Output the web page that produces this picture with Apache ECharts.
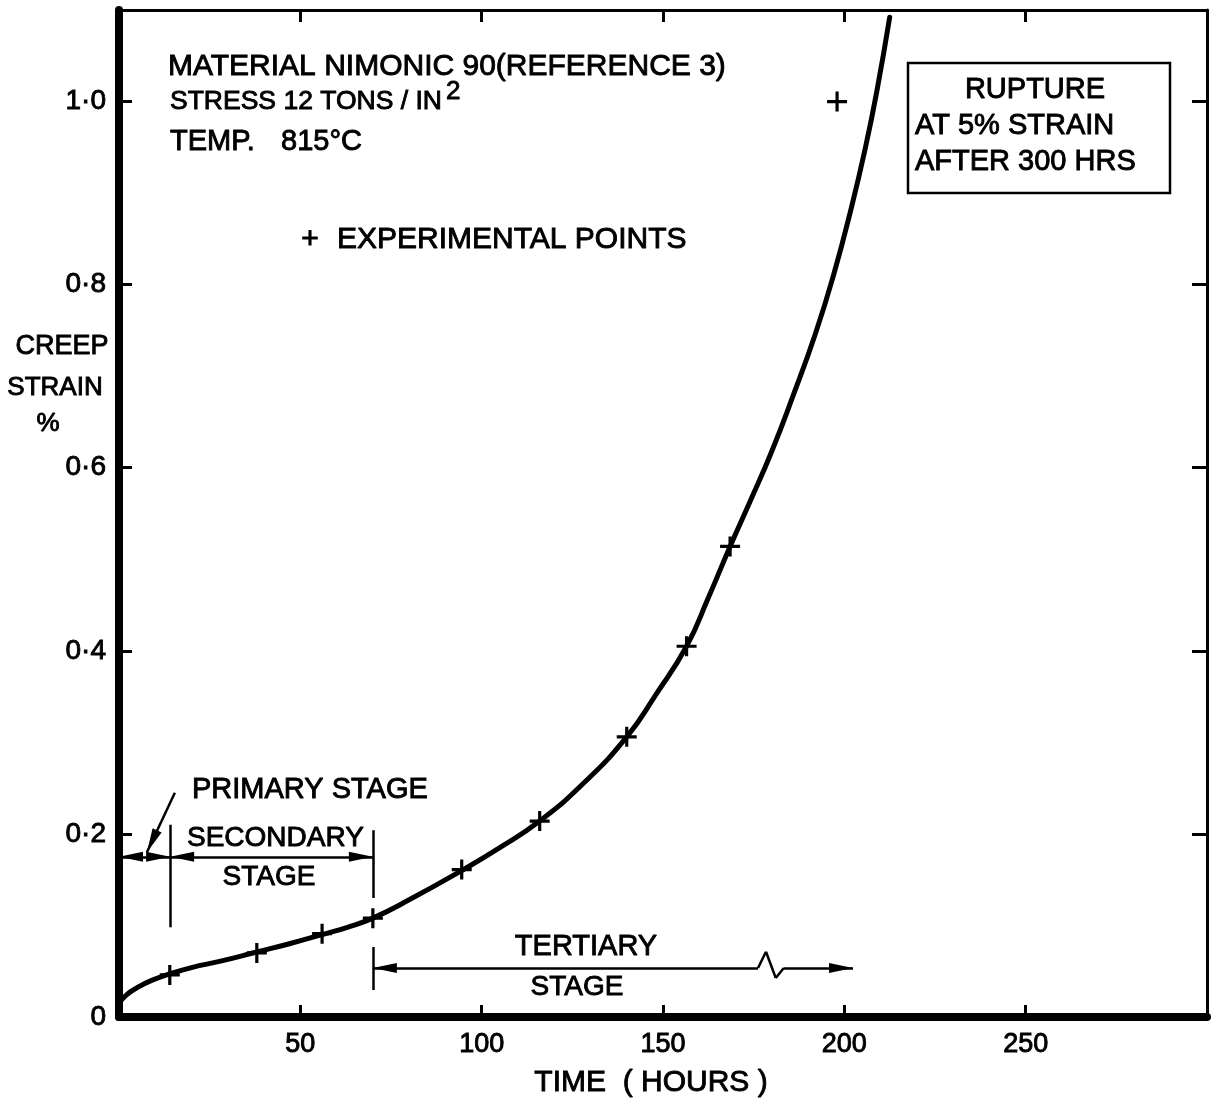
<!DOCTYPE html>
<html>
<head>
<meta charset="utf-8">
<script src="https://cdn.jsdelivr.net/npm/echarts@6/dist/echarts.min.js"></script>
<style>
  html, body { margin: 0; padding: 0; background: #fff; }
  #chart { width: 1212px; height: 1105px; }
</style>
</head>
<body>
<div id="chart"></div>
<script>
// Creep test of Nimonic 90 at 815 °C, 12 tons/in² — experimental readings
const testHours  = [14, 38, 56, 70, 94.5, 116, 140, 156.5, 168.5, 198];
const testStrain = [0.046, 0.070, 0.091, 0.108, 0.161, 0.214, 0.306, 0.405, 0.514, 1.0];

// Faired creep curve through the readings
const curveHours  = [0, 2, 5, 9, 14, 20, 28, 38, 47, 56, 63, 70, 80, 94.5, 105, 116, 128, 140, 148, 156.5,
                     162.5, 168.5, 174, 180, 186, 192, 197, 202, 206, 209, 212.5];
const curveStrain = [0.015, 0.024, 0.032, 0.040, 0.047, 0.054, 0.061, 0.071, 0.080, 0.090, 0.098, 0.108, 0.128,
                     0.160, 0.185, 0.214, 0.255, 0.306, 0.352, 0.405, 0.458, 0.514, 0.563, 0.618, 0.680, 0.746,
                     0.810, 0.885, 0.953, 1.012, 1.092];

// Axis ticks
const xTickValues = [50, 100, 150, 200, 250];
const yTickValues = [0, 0.2, 0.4, 0.6, 0.8, 1.0];
const yRightTicks = [0.2, 0.4, 0.6, 0.8, 1.0];

const FONT = '"Liberation Sans", Arial, sans-serif';
const INK = '#000';

function pairs(xs, ys) { return xs.map((x, i) => [x, ys[i]]); }

// one straight annotation stroke between two points given in axis units;
// arrow heads are pulled back half their length so the tips sit on the end points
function seg(a, b, startSym, endSym) {
  return [
    { coord: a, symbol: startSym || 'none', symbolOffset: [0, '50%'] },
    { coord: b, symbol: endSym || 'none', symbolOffset: [0, '50%'] }
  ];
}

const HEAD = 'triangle';

// stage brackets and arrows (axis units: hours, % strain)
const stageLines = [
  seg([0, 0.175], [14.1, 0.175], HEAD, HEAD),             // primary stage span
  seg([14.1, 0.175], [70, 0.175], HEAD, HEAD),            // secondary stage span
  seg([14.1, 0.21], [14.1, 0.098]),
  seg([70, 0.204], [70, 0.130]),
  seg([70, 0.0765], [70, 0.0295]),
  seg([70, 0.0535], [176.2, 0.0535], HEAD, 'none'),       // tertiary stage span
  seg([176.2, 0.0535], [178.4, 0.0713]),
  seg([178.4, 0.0713], [181.1, 0.0426]),
  seg([181.1, 0.0426], [183.3, 0.0535]),
  seg([183.3, 0.0535], [202.4, 0.0535], 'none', HEAD),
  seg([15.4, 0.245], [7.7, 0.180], 'none', HEAD)          // pointer to primary stage
];

function txt(x, y, text, size, align) {
  return {
    type: 'text',
    silent: true,
    style: {
      text: text, x: x, y: y,
      font: (size || 29) + 'px ' + FONT,
      fill: INK,
      stroke: INK,
      lineWidth: 0.9,
      textAlign: align || 'left',
      textVerticalAlign: 'middle'
    }
  };
}

function fmtStrain(v) {
  return v === 0 ? '0' : v.toFixed(1).replace('.', '\u00B7');
}

const chart = echarts.init(document.getElementById('chart'), null, { renderer: 'canvas' });

chart.setOption({
  backgroundColor: '#fff',
  animation: false,
  grid: { left: 119, right: 5, top: 10, bottom: 88, containLabel: false },
  xAxis: [
    {
      type: 'value', min: 0, max: 300, position: 'bottom',
      axisLine: { onZero: false, lineStyle: { color: INK, width: 8 } },
      axisTick: { inside: true, length: 12, lineStyle: { color: INK, width: 3 }, customValues: xTickValues },
      axisLabel: {
        customValues: xTickValues, margin: 14, color: INK, fontSize: 27, fontFamily: FONT,
        textBorderColor: INK, textBorderWidth: 0.9
      },
      splitLine: { show: false }
    },
    {
      type: 'value', min: 0, max: 300, position: 'top',
      axisLine: { onZero: false, lineStyle: { color: INK, width: 3 } },
      axisTick: { inside: true, length: 12, lineStyle: { color: INK, width: 3 }, customValues: xTickValues },
      axisLabel: { show: false },
      splitLine: { show: false }
    }
  ],
  yAxis: [
    {
      type: 'value', min: 0, max: 1.1, position: 'left',
      axisLine: { onZero: false, lineStyle: { color: INK, width: 8 } },
      axisTick: { inside: true, length: 13, lineStyle: { color: INK, width: 3 }, customValues: yTickValues },
      axisLabel: {
        customValues: yTickValues, formatter: fmtStrain, margin: 13, color: INK, fontSize: 28, fontFamily: FONT,
        textBorderColor: INK, textBorderWidth: 0.9
      },
      splitLine: { show: false }
    },
    {
      type: 'value', min: 0, max: 1.1, position: 'right',
      axisLine: { onZero: false, lineStyle: { color: INK, width: 3 } },
      axisTick: { inside: true, length: 15, lineStyle: { color: INK, width: 3 }, customValues: yRightTicks },
      axisLabel: { show: false },
      splitLine: { show: false }
    }
  ],
  series: [
    {
      name: 'creep curve',
      type: 'line',
      xAxisIndex: 0, yAxisIndex: 0,
      data: pairs(curveHours, curveStrain),
      smooth: 0.5,
      symbol: 'none',
      lineStyle: { color: INK, width: 5, cap: 'round' },
      silent: true,
      z: 3,
      markLine: {
        silent: true,
        animation: false,
        symbol: ['none', 'none'],
        symbolSize: [10, 24],
        label: { show: false },
        emphasis: { disabled: true },
        itemStyle: { color: INK },
        lineStyle: { color: INK, width: 2.5, type: 'solid' },
        data: stageLines
      }
    },
    {
      name: 'experimental points',
      type: 'scatter',
      xAxisIndex: 0, yAxisIndex: 0,
      data: pairs(testHours, testStrain),
      symbol: 'path://M-1.6,-10 H1.6 V-1.6 H10 V1.6 H1.6 V10 H-1.6 V1.6 H-10 V-1.6 H-1.6 Z',
      symbolSize: 20,
      itemStyle: { color: INK, opacity: 1 },
      silent: true,
      z: 4
    }
  ],
  graphic: {
    elements: [
      txt(168, 67, 'MATERIAL NIMONIC 90(REFERENCE 3)', 30),
      txt(170, 102, 'STRESS 12 TONS / IN', 26.5),
      txt(446, 92, '2', 26),
      txt(170, 142, 'TEMP.', 29),
      txt(281, 142, '815\u00B0C', 29),
      txt(310, 240, '+', 30, 'center'),
      txt(337, 240, 'EXPERIMENTAL POINTS', 30),
      {
        type: 'rect', silent: true,
        shape: { x: 908, y: 63, width: 262, height: 130 },
        style: { fill: 'none', stroke: INK, lineWidth: 2.5 }
      },
      txt(1035, 90, 'RUPTURE', 29, 'center'),
      txt(915, 126, 'AT 5% STRAIN', 29),
      txt(915, 162, 'AFTER 300 HRS', 29),
      txt(192, 790, 'PRIMARY STAGE', 29),
      txt(187, 838, 'SECONDARY', 28),
      txt(269, 877, 'STAGE', 28, 'center'),
      txt(586, 947, 'TERTIARY', 29, 'center'),
      txt(577, 987, 'STAGE', 28, 'center'),
      txt(62, 347, 'CREEP', 27, 'center'),
      txt(55, 388, 'STRAIN', 26, 'center'),
      txt(48, 424, '%', 26, 'center'),
      txt(651, 1083, 'TIME  ( HOURS )', 30, 'center')
    ]
  }
});
</script>
</body>
</html>
